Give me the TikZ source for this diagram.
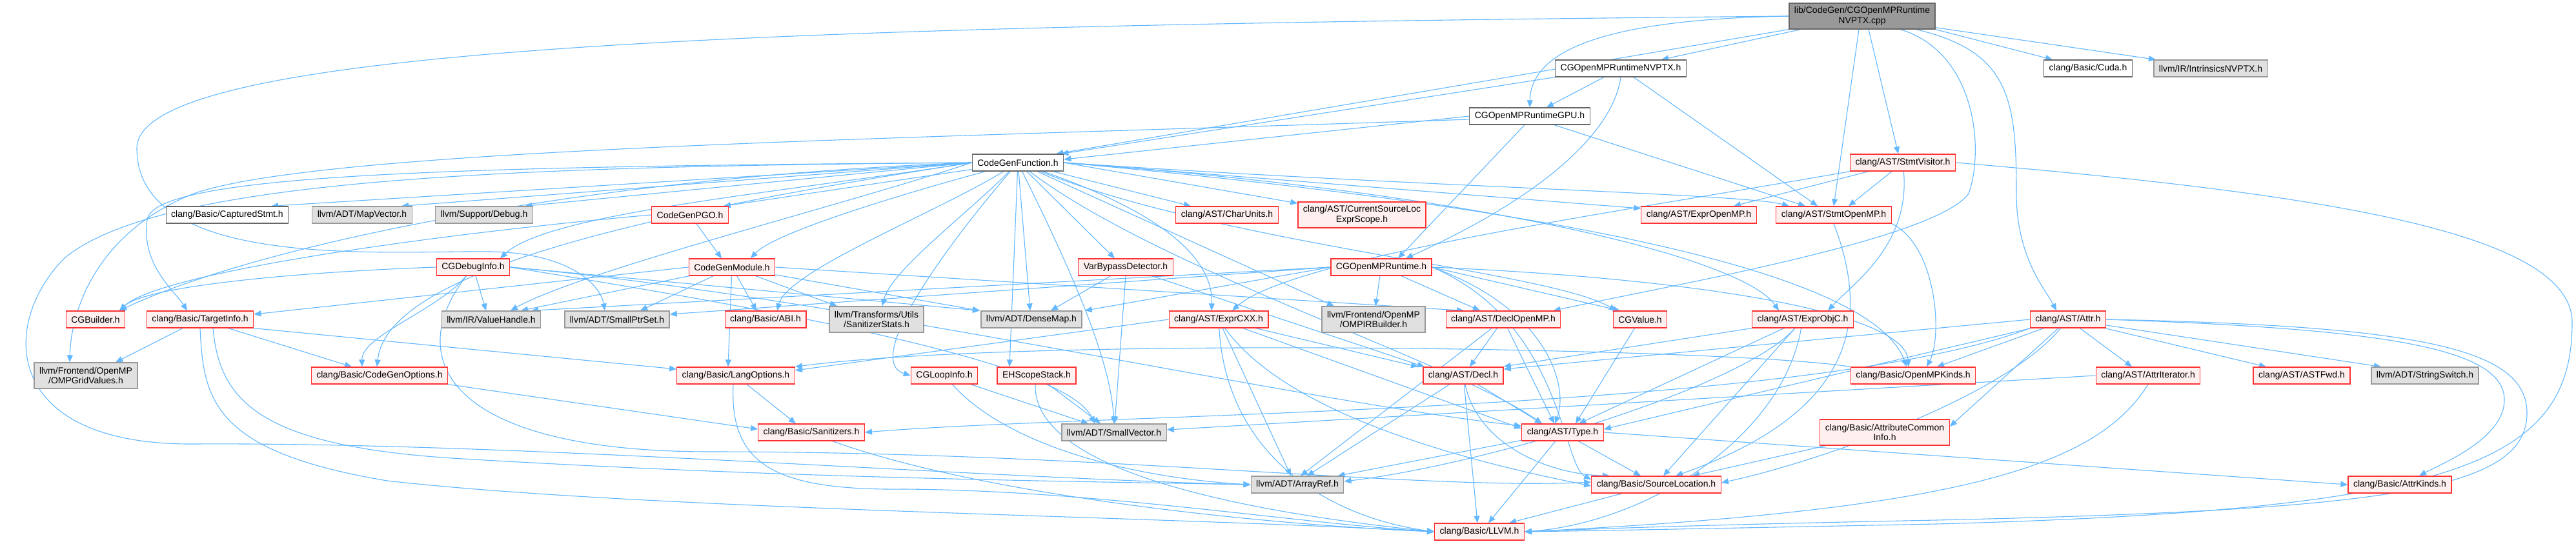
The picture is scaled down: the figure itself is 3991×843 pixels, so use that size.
\documentclass[tikz,border=0pt]{standalone}
\usepackage{fontspec}
\setmainfont{Liberation Sans}
\usetikzlibrary{arrows.meta}
\definecolor{edgec}{HTML}{63B8FF}
\definecolor{redb}{HTML}{FF3030}
\definecolor{redf}{HTML}{FFF0F0}
\definecolor{grayb}{HTML}{999999}
\definecolor{grayf}{HTML}{E0E0E0}
\definecolor{darkb}{HTML}{666666}
\definecolor{topf}{HTML}{999999}
\pgfdeclarelayer{bg}
\pgfsetlayers{bg,main}
\tikzset{
 box/.style={draw, line width=1.3pt, inner xsep=8pt, inner ysep=0pt, minimum height=26pt, font=\fontsize{14}{15.5}\selectfont, align=center},
 rbox/.style={box, draw=redb, fill=redf},
 gbox/.style={box, draw=grayb, fill=grayf},
 wbox/.style={box, draw=darkb, fill=white},
 tbox/.style={box, draw=darkb, fill=topf, minimum height=40pt},
 e/.style={draw=edgec, line width=1.1pt, -{Triangle[length=11pt,width=9pt]}},
}
\begin{document}
\begin{tikzpicture}[x=1pt,y=-1pt]
\useasboundingbox (0,0) rectangle (3991,843);
% nodes
\node[tbox] (T) at (2885,25) {lib/CodeGen/CGOpenMPRuntime\\NVPTX.cpp};
\node[wbox] (nvptx) at (2511,106) {CGOpenMPRuntimeNVPTX.h};
\node[wbox] (gpu) at (2370,180) {CGOpenMPRuntimeGPU.h};
\node[wbox] (cgf) at (1577,252) {CodeGenFunction.h};
\node[rbox] (stmtvis) at (2948,252) {clang/AST/StmtVisitor.h};
\node[wbox] (cuda) at (3235,106) {clang/Basic/Cuda.h};
\node[gbox] (intr) at (3425,106) {llvm/IR/IntrinsicsNVPTX.h};
\node[wbox] (cap) at (352,333) {clang/Basic/CapturedStmt.h};
\node[gbox] (mapvec) at (561,333) {llvm/ADT/MapVector.h};
\node[gbox] (debug) at (750,333) {llvm/Support/Debug.h};
\node[rbox] (pgo) at (1069,333) {CodeGenPGO.h};
\node[rbox] (charu) at (1901,333) {clang/AST/CharUnits.h};
\node[rbox, minimum height=40pt] (cursrc) at (2110,333) {clang/AST/CurrentSourceLoc\\ExprScope.h};
\node[rbox] (expromp) at (2632,333) {clang/AST/ExprOpenMP.h};
\node[rbox] (stmtomp) at (2841,333) {clang/AST/StmtOpenMP.h};
\node[rbox] (cgdbg) at (733,414) {CGDebugInfo.h};
\node[rbox] (cgmod) at (1134,414) {CodeGenModule.h};
\node[rbox] (varby) at (1744,414) {VarBypassDetector.h};
\node[rbox] (ompr) at (2140,414) {CGOpenMPRuntime.h};
\node[rbox] (cgb) at (148,495) {CGBuilder.h};
\node[rbox] (tinfo) at (310,495) {clang/Basic/TargetInfo.h};
\node[gbox] (vh) at (761,495) {llvm/IR/ValueHandle.h};
\node[gbox] (sps) at (956,495) {llvm/ADT/SmallPtrSet.h};
\node[rbox] (abi) at (1186,495) {clang/Basic/ABI.h};
\node[gbox, minimum height=40pt] (sstats) at (1358,495) {llvm/Transforms/Utils\\/SanitizerStats.h};
\node[gbox] (dmap) at (1598,495) {llvm/ADT/DenseMap.h};
\node[rbox] (excxx) at (1888,495) {clang/AST/ExprCXX.h};
\node[gbox, minimum height=40pt] (ompir) at (2128,495) {llvm/Frontend/OpenMP\\/OMPIRBuilder.h};
\node[rbox] (declomp) at (2329,495) {clang/AST/DeclOpenMP.h};
\node[rbox] (cgval) at (2541,495) {CGValue.h};
\node[rbox] (exobjc) at (2793,495) {clang/AST/ExprObjC.h};
\node[rbox] (attr) at (3204,495) {clang/AST/Attr.h};
\node[gbox, minimum height=40pt] (grid) at (133,582) {llvm/Frontend/OpenMP\\/OMPGridValues.h};
\node[rbox] (cgopts) at (588,582) {clang/Basic/CodeGenOptions.h};
\node[rbox] (lang) at (1140,582) {clang/Basic/LangOptions.h};
\node[rbox] (loop) at (1463,582) {CGLoopInfo.h};
\node[rbox] (eh) at (1606,582) {EHScopeStack.h};
\node[rbox] (decl) at (2267,582) {clang/AST/Decl.h};
\node[rbox] (omk) at (2964,582) {clang/Basic/OpenMPKinds.h};
\node[rbox] (aiter) at (3328,582) {clang/AST/AttrIterator.h};
\node[rbox] (astfwd) at (3566,582) {clang/AST/ASTFwd.h};
\node[gbox] (sswitch) at (3757,582) {llvm/ADT/StringSwitch.h};
\node[rbox] (san) at (1257,670) {clang/Basic/Sanitizers.h};
\node[gbox] (svec) at (1726,670) {llvm/ADT/SmallVector.h};
\node[rbox] (type) at (2421,670) {clang/AST/Type.h};
\node[rbox, minimum height=40pt] (acommon) at (2920,670) {clang/Basic/AttributeCommon\\Info.h};
\node[gbox] (aref) at (2010,751) {llvm/ADT/ArrayRef.h};
\node[rbox] (sloc) at (2566,751) {clang/Basic/SourceLocation.h};
\node[rbox] (akinds) at (3718,751) {clang/Basic/AttrKinds.h};
\node[rbox] (llvm) at (2292,824) {clang/Basic/LLVM.h};
\begin{pgfonlayer}{bg}
\fill[white] (0,0) rectangle (3991,843);
% top node
\draw[e] (T) -- (nvptx);
\draw[e] (T.west) .. controls (2480,30) and (2372,80) .. (gpu.north);
\draw[e] (T.south west) -- ([xshift=-12pt]cgf.north east);
\draw[e] ([xshift=-5pt]T.south) -- (stmtomp.north);
\draw[e] ([xshift=10pt]T.south) -- ([xshift=-7pt]stmtvis.north);
\draw[e] ([xshift=59pt]T.south) .. controls (3060,80) and (3075,230) .. (3050,300) .. controls (3000,370) and (2600,440) .. ([xshift=-12pt]declomp.north east);
\draw[e] ([xshift=84pt]T.south) .. controls (3112,80) and (3124,150) .. (3124,300) .. controls (3124,400) and (3170,450) .. ([xshift=-18pt]attr.north);
\draw[e] (T.south east) -- ([xshift=-55pt]cuda.north);
\draw[e] ([yshift=3pt]T.south east) -- ([xshift=-85pt]intr.north);
\draw[e] (T.west) .. controls (1200,40) and (212,70) .. (212,230) .. controls (212,420) and (600,388) .. (760,390) .. controls (880,392) and (930,440) .. ([xshift=-19pt]sps.north);
% nvptx
\draw[e] (nvptx) -- (gpu);
\draw[e] (nvptx.south west) -- ([xshift=-4pt]cgf.north east);
\draw[e] (nvptx.south) .. controls (2500,200) and (2400,300) .. ([xshift=38pt]ompr.north);
\draw[e] ([xshift=20pt]nvptx.south) -- ([xshift=-25pt]stmtomp.north);
% gpu
\draw[e] (gpu.west) -- ([yshift=5pt]cgf.east);
\draw[e] ([yshift=-5pt]gpu.west) .. controls (1400,215) and (500,230) .. (300,300) .. controls (150,360) and (110,480) .. ([xshift=-25pt]grid.north);
\draw[e] ([xshift=-8pt]gpu.south) -- ([xshift=26pt]ompr.north);
\draw[e] ([xshift=38pt]gpu.south) -- ([xshift=-44pt]stmtomp.north);
% CodeGenFunction
\draw[e] (cgf.west) .. controls (900,275) and (400,380) .. ([xshift=37pt]cgb.north);
\draw[e] (cgf.west) -- ([xshift=68pt]cap.north);
\draw[e] (cgf.west) -- ([xshift=61pt]mapvec.north);
\draw[e] (cgf.west) -- ([xshift=63pt]debug.north);
\draw[e] (cgf.west) .. controls (1200,300) and (850,330) .. ([xshift=42pt]cgdbg.north);
\draw[e] (cgf.west) .. controls (700,258) and (240,270) .. (228,340) .. controls (218,410) and (270,450) .. ([xshift=-20pt]tinfo.north);
\draw[e] (cgf) -- ([xshift=-8pt]pgo.north east);
\draw[e] (cgf) .. controls (1400,300) and (1200,360) .. ([xshift=29pt]cgmod.north);
\draw[e] (cgf) .. controls (1450,330) and (1220,420) .. ([xshift=18pt]abi.north);
\draw[e] (cgf) .. controls (1500,330) and (1380,420) .. ([xshift=9pt]sstats.north);
\draw[e] (cgf) -- ([xshift=-2pt]dmap.north);
\draw[e] (cgf) -- ([xshift=-17pt]varby.north);
\draw[e] (cgf) -- ([xshift=-56pt]charu.north);
\draw[e] (cgf.east) -- ([yshift=18pt]cursrc.west);
\draw[e] (cgf) .. controls (1800,330) and (1880,400) .. ([xshift=-11pt]excxx.north);
\draw[e] (cgf.east) -- ([yshift=10pt]expromp.west);
\draw[e] (cgf.east) .. controls (2200,290) and (2700,300) .. ([xshift=-69pt]stmtomp.north);
\draw[e] (cgf.east) .. controls (2300,300) and (2700,400) .. ([xshift=-37pt]exobjc.north);
\draw[e] (cgf) .. controls (1900,380) and (2400,420) .. ([xshift=-37pt]cgval.north);
\draw[e] (cgf) -- ([xshift=-61pt]ompir.north);
\draw[e] (cgf) .. controls (1800,420) and (2250,560) .. ([xshift=-32pt]type.north);
\draw[e] (cgf.east) .. controls (2400,320) and (2900,420) .. ([xshift=-10pt]omk.north);
\draw[e] (cgf) .. controls (1450,400) and (1340,560) .. (loop.west);
\draw[e] (cgf) -- ([xshift=-42pt]eh.north);
\draw[e] (cgf) .. controls (1650,400) and (1720,550) .. ([xshift=0pt]svec.north);
\draw[e] (cgf.west) .. controls (800,258) and (250,275) .. (100,400) .. controls (0,500) and (0,690) .. (300,688) .. controls (800,685) and (1500,740) .. (aref.west);
\draw[e] (cgf.west) .. controls (1000,330) and (600,420) .. ([xshift=-4pt]cgopts.north);
\draw[e] (cgf.west) .. controls (1300,320) and (900,420) .. ([xshift=30pt]vh.north);
% CGOpenMPRuntime
\draw[e] (ompr.west) -- ([yshift=8pt]sps.east);
\draw[e] (ompr.west) -- ([xshift=62pt]vh.north);
\draw[e] (ompr) -- ([xshift=3pt]ompir.north);
\draw[e] (ompr) -- ([xshift=-36pt]declomp.north);
\draw[e] (ompr.east) -- ([xshift=-31pt]cgval.north);
\draw[e] (ompr.east) .. controls (2600,430) and (2950,480) .. ([xshift=-7pt]omk.north);
\draw[e] (ompr.east) .. controls (2400,480) and (2430,600) .. ([xshift=-12pt]type.north);
\draw[e] (ompr.east) .. controls (2420,500) and (2420,720) .. ([yshift=8pt]sloc.west);
\draw[e] (ompr.west) -- ([xshift=4pt]dmap.north east);
% CGDebugInfo
\draw[e] (cgdbg.west) .. controls (500,420) and (230,440) .. ([xshift=37pt]cgb.north);
\draw[e] (cgdbg) .. controls (680,480) and (560,520) .. ([xshift=-27pt]cgopts.north);
\draw[e] (cgdbg) -- ([xshift=-8pt]vh.north);
\draw[e] (cgdbg.east) -- ([xshift=-80pt]dmap.north);
\draw[e] (cgdbg.east) .. controls (1200,480) and (1650,560) .. ([xshift=-30pt]svec.north);
\draw[e] (cgdbg.east) .. controls (1300,460) and (2000,620) .. ([yshift=10pt]type.west);
\draw[e] (cgdbg) .. controls (620,560) and (700,700) .. (1100,700) .. controls (1700,700) and (2200,760) .. ([yshift=4pt]sloc.west);
% CodeGenPGO
\draw[e] (pgo.west) .. controls (700,360) and (250,420) .. ([xshift=37pt]cgb.north);
\draw[e] (pgo) -- ([xshift=-16pt]cgmod.north);
% CodeGenModule
\draw[e] (cgmod.west) -- ([yshift=8pt]tinfo.east);
\draw[e] (cgmod) -- ([xshift=-14pt]abi.north);
\draw[e] (cgmod) -- ([xshift=-61pt]sstats.north);
\draw[e] (cgmod) -- ([xshift=-12pt]lang.north);
\draw[e] (cgmod.east) -- ([xshift=-61pt]declomp.north);
\draw[e] (cgmod) -- ([xshift=-80pt]dmap.north);
\draw[e] (cgmod) -- ([xshift=36pt]sps.north);
\draw[e] (cgmod) -- ([xshift=46pt]vh.north);
% TargetInfo
\draw[e] (tinfo) -- ([xshift=46pt]grid.north);
\draw[e] (tinfo) -- ([xshift=-43pt]cgopts.north);
\draw[e] (tinfo.south east) -- ([yshift=10pt]lang.west);
\draw[e] (tinfo.south) .. controls (315,620) and (330,700) .. (600,745) .. controls (1000,790) and (1800,800) .. (llvm.west);
\draw[e] ([xshift=20pt]tinfo.south) .. controls (340,620) and (400,690) .. (700,710) .. controls (1200,740) and (1600,745) .. (aref.west);
% VarBypassDetector
\draw[e] (varby) -- ([xshift=30pt]dmap.north);
\draw[e] (varby.south) -- ([xshift=1pt]svec.north);
\draw[e] (varby) -- ([xshift=-60pt]decl.north);
% CGLoopInfo, EHScopeStack
\draw[e] (loop) -- ([xshift=-40pt]svec.north);
\draw[e] (loop) .. controls (1560,690) and (1750,740) .. (aref.west);
\draw[e] (eh) -- ([xshift=-21pt]svec.north);
\draw[e] ([xshift=-2pt]eh.south) .. controls (1600,700) and (1800,780) .. (llvm.west);
% LangOptions, Sanitizers, CodeGenOptions
\draw[e] (lang) -- ([xshift=-24pt]san.north);
\draw[e] ([xshift=-4pt]lang.south) .. controls (1130,720) and (1200,760) .. (1400,758) .. controls (1700,760) and (2000,810) .. (llvm.west);
\draw[e] ([xshift=33pt]san.south) .. controls (1500,760) and (1900,810) .. (llvm.west);
\draw[e] (cgopts.south east) -- ([yshift=5pt]san.west);
% CGValue, DeclOpenMP
\draw[e] (cgval) -- ([xshift=20pt]type.north);
\draw[e] (declomp) -- ([xshift=10pt]decl.north);
\draw[e] (declomp) -- ([xshift=-13pt]type.north);
\draw[e] (declomp) -- ([xshift=5pt]aref.north);
% ExprObjC
\draw[e] (exobjc.south west) -- ([yshift=14pt]decl.east);
\draw[e] (exobjc) -- ([xshift=25pt]type.north);
\draw[e] (exobjc) .. controls (2760,680) and (2550,810) .. (llvm.east);
\draw[e] (exobjc) -- ([xshift=11pt]sloc.north);
\draw[e] (exobjc) .. controls (2700,600) and (2300,720) .. ([yshift=5pt]aref.east);
% ExprCXX
\draw[e] (excxx) -- ([xshift=-70pt]decl.north);
\draw[e] (excxx) -- ([yshift=6pt]type.west);
\draw[e] (excxx) .. controls (1900,700) and (2050,800) .. (llvm.west);
\draw[e] (excxx.west) -- ([yshift=8pt]lang.east);
\draw[e] (excxx) .. controls (2000,650) and (2300,720) .. ([yshift=-2pt]sloc.west);
\draw[e] (excxx) -- ([xshift=-10pt]aref.north);
% Decl, Type, SourceLocation
\draw[e] (decl) -- ([xshift=-32pt]type.north);
\draw[e] (decl) -- ([xshift=-3pt]llvm.north);
\draw[e] (decl) .. controls (2290,690) and (2400,735) .. ([xshift=-72pt]sloc.north);
\draw[e] (decl) -- ([xshift=15pt]aref.north);
\draw[e] (type) -- ([xshift=14pt]llvm.north);
\draw[e] (type) -- ([xshift=-24pt]sloc.north);
\draw[e] (type) -- ([xshift=-10pt]aref.north east);
\draw[e] (type.east) -- (akinds.west);
\draw[e] (sloc) -- ([xshift=46pt]llvm.north);
\draw[e] (acommon) -- ([xshift=56pt]sloc.north);
% StmtOpenMP, StmtVisitor
\draw[e] (stmtomp.south east) .. controls (3000,380) and (3010,520) .. ([xshift=21pt]omk.north);
\draw[e] (stmtomp.south) .. controls (2900,500) and (2870,640) .. ([xshift=30pt]sloc.north);
\draw[e] (stmtvis) -- ([xshift=54pt]expromp.north);
\draw[e] (stmtvis) -- ([xshift=23pt]stmtomp.north);
\draw[e] (stmtvis) .. controls (2960,380) and (2870,440) .. ([xshift=39pt]exobjc.north);
\draw[e] (stmtvis.south west) .. controls (2500,330) and (2000,400) .. ([xshift=21pt]excxx.north);
\draw[e] (stmtvis.east) .. controls (3600,300) and (3985,360) .. (3985,500) .. controls (3985,720) and (3800,790) .. (3000,812) .. controls (2700,818) and (2500,822) .. (llvm.east);
% Attr
\draw[e] (attr) -- ([xshift=37pt]omk.north);
\draw[e] (attr) -- ([yshift=5pt]type.east);
\draw[e] (attr) -- ([yshift=9pt]acommon.east);
\draw[e] (attr) .. controls (3100,620) and (2800,720) .. ([yshift=3pt]sloc.east);
\draw[e] (attr) -- ([xshift=-25pt]aiter.north);
\draw[e] (attr) -- ([xshift=-55pt]astfwd.north);
\draw[e] (attr) -- ([xshift=-68pt]sswitch.north);
\draw[e] (attr.east) .. controls (3700,510) and (3880,540) .. (3880,620) .. controls (3880,680) and (3780,720) .. ([xshift=30pt]akinds.north);
\draw[e] (attr.east) .. controls (3750,505) and (3915,540) .. (3915,640) .. controls (3915,760) and (3700,790) .. (3000,806) .. controls (2700,812) and (2500,818) .. (llvm.east);
\draw[e] (attr.west) -- ([yshift=10pt]decl.east);
\draw[e] (attr.south west) .. controls (2800,640) and (1700,640) .. (san.east);
% AttrIterator, OpenMPKinds
\draw[e] (aiter.west) -- ([yshift=4pt]svec.east);
\draw[e] (aiter.south) .. controls (3250,720) and (3050,790) .. (llvm.east);
\draw[e] (omk.north west) .. controls (2700,540) and (1600,520) .. (lang.north east);
\end{pgfonlayer}
\end{tikzpicture}
\end{document}
